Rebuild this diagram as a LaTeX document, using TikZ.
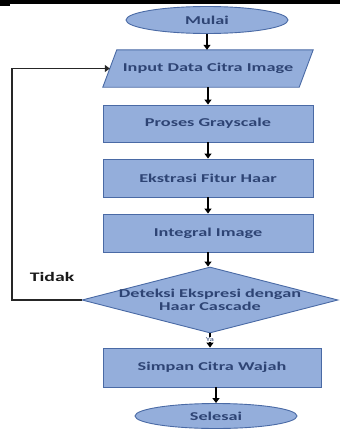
\documentclass[tikz,border=0pt]{standalone}
\usepackage{fontspec}
\setmainfont{Carlito}[FakeStretch=1.52]
\usetikzlibrary{shapes.geometric,arrows.meta}
\definecolor{boxfill}{HTML}{94AEDB}
\definecolor{boxline}{HTML}{4A6AA5}
\definecolor{boxtext}{HTML}{2E4474}
\tikzset{
  box/.style={draw=boxline, fill=boxfill, line width=0.9pt},
  procbox/.style={box, rectangle, inner sep=0pt, text=boxtext,
    font=\fontsize{12}{13}\selectfont\bfseries},
  termbox/.style={box, ellipse, inner sep=0pt, text=boxtext,
    font=\fontsize{12}{13}\selectfont\bfseries},
  flow/.style={draw=black, line width=1.3pt,
    -{Triangle[length=5pt,width=7pt]}},
  loopline/.style={draw=black!85, line width=1.5pt,
    -{Triangle[length=5pt,width=7pt]}}
}
\begin{document}
\begin{tikzpicture}[x=1pt,y=-1pt]
  \useasboundingbox (0,0) rectangle (340,431);
  % rule across the top of the page
  \fill[black] (0,0) rectangle (340,4);
  \fill[black] (0,0) rectangle (10,5.5);

  % terminals and process steps
  \node[termbox, minimum width=162pt, minimum height=27pt] (mulai) at (207,20) {Mulai};
  \node[rectangle, inner sep=0pt, minimum width=196pt, minimum height=37pt] (input) at (208,68.5) {};
  \draw[box] ([xshift=7pt]input.north west) -- ([xshift=7pt]input.north east)
    -- ([xshift=-7pt]input.south east) -- ([xshift=-7pt]input.south west) -- cycle;
  \node[text=boxtext, font=\fontsize{12}{13}\selectfont\bfseries] at (input) {Input Data Citra Image};
  \node[procbox, minimum width=210pt, minimum height=37pt] (proses) at (208,123.5) {Proses Grayscale};
  \node[procbox, minimum width=210pt, minimum height=38pt] (ekstrasi) at (208,178) {Ekstrasi Fitur Haar};
  \node[procbox, minimum width=210pt, minimum height=38pt] (integral) at (208,233) {Integral Image};

  % decision
  \node[box, diamond, inner sep=0pt, minimum width=256pt, minimum height=66pt] (dec) at (210,300) {};
  \node[text=boxtext, align=center, font=\fontsize{12}{13}\selectfont\bfseries] at (dec) {Deteksi Ekspresi dengan\\Haar Cascade};

  \node[procbox, minimum width=218pt, minimum height=39pt] (simpan) at (212,367.5) {Simpan Citra Wajah};
  \node[termbox, minimum width=162pt, minimum height=25pt] (selesai) at (216,416) {Selesai};

  % main flow
  \draw[flow] (mulai.south) -- (mulai.south |- input.north);
  \draw[flow] (input.south) -- (input.south |- proses.north);
  \draw[flow] (proses.south) -- (proses.south |- ekstrasi.north);
  \draw[flow] (ekstrasi.south) -- (ekstrasi.south |- integral.north);
  \draw[flow] (integral.south) -- (integral.south |- dec.north);
  \draw[flow] (dec.south) -- (dec.south |- simpan.north)
    node[pos=0.45, fill=white, inner sep=0.5pt, text=boxtext,
         font=\fontsize{6}{6}\selectfont] (ya) {Ya};
  \draw[flow] (simpan.south -| selesai.north) -- (selesai.north);

  % loop back when no face is found
  \coordinate (loopx) at (12,0);
  \draw[loopline] (dec.west) -- (dec.west -| loopx) |- (input.west);
  \node[font=\fontsize{13}{14}\selectfont\bfseries, text=black!90] (tidak) at (52,277) {Tidak};
\end{tikzpicture}
\end{document}
